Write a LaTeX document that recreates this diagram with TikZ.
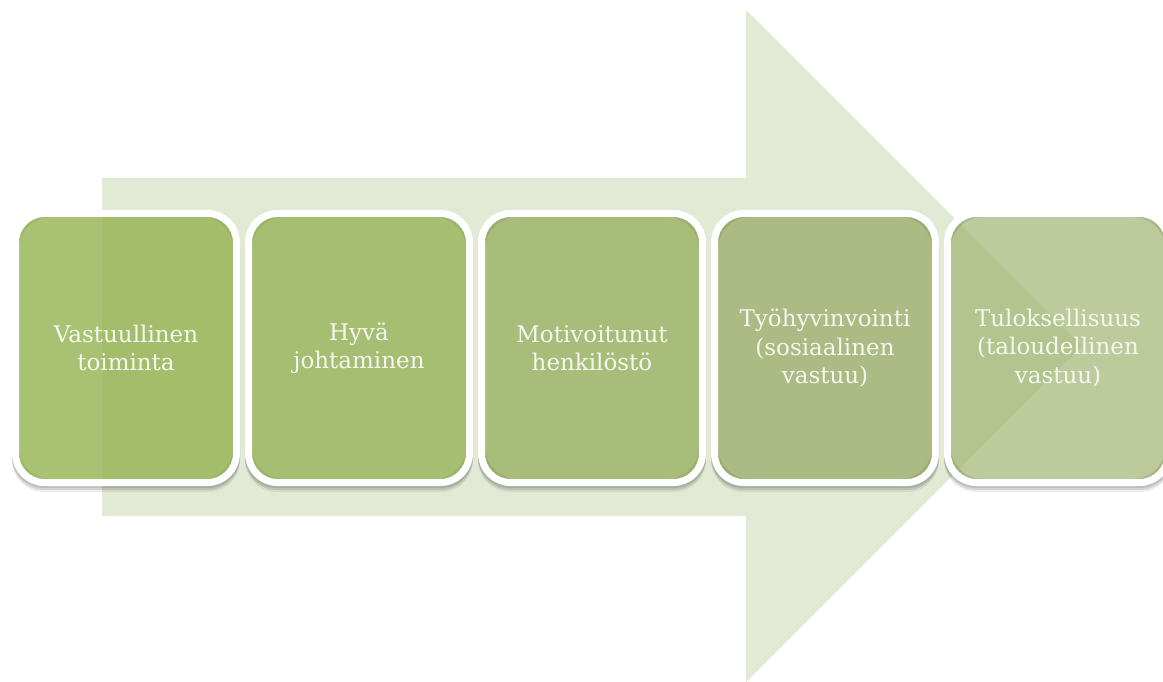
\documentclass[tikz,border=0pt]{standalone}
\usepackage{fontspec}
\setmainfont{DejaVu Serif}
\pgfdeclarelayer{arrowlayer}
\pgfdeclarelayer{shadelayer}
\pgfsetlayers{arrowlayer,shadelayer,main}

\definecolor{arrowfill}{RGB}{226,234,214}
\definecolor{stageA}{RGB}{154,182,89}
\definecolor{stageB}{RGB}{153,181,92}
\definecolor{stageC}{RGB}{151,175,94}
\definecolor{stageD}{RGB}{152,170,99}
\definecolor{stageE}{RGB}{157,178,107}
\definecolor{labeltext}{RGB}{246,246,240}

\tikzset{
  stagebox/.style={rectangle, rounded corners=29pt, draw=white, line width=7pt,
    minimum width=221pt, minimum height=269pt, inner sep=0pt,
    text=labeltext, text opacity=1, draw opacity=1, align=center,
    font=\fontsize{23}{28.5}\selectfont},
  boxshade/.style={fill=black, even odd rule, rounded corners=32pt},
}

\begin{document}
\begin{tikzpicture}[x=1pt, y=-1pt]
  \useasboundingbox (0,0) rectangle (1163,682);

  % the big background arrow
  \begin{pgfonlayer}{arrowlayer}
    \fill[arrowfill] (102,178) -- (746,178) -- (746,10) -- (1082,346)
      -- (746,682) -- (746,516) -- (102,516) -- cycle;
  \end{pgfonlayer}

  % the five stages
  \node[stagebox, fill=stageA, fill opacity=0.85] (b1) at (126,348) {Vastuullinen\\toiminta};
  \node[stagebox, fill=stageB, fill opacity=0.81] (b2) at (359,348) {Hyvä\\johtaminen};
  \node[stagebox, fill=stageC, fill opacity=0.76] (b3) at (592,348) {Motivoitunut\\henkilöstö};
  \node[stagebox, fill=stageD, fill opacity=0.72] (b4) at (825,348) {Työhyvinvointi\\(sosiaalinen\\vastuu)};
  \node[stagebox, fill=stageE, fill opacity=0.67] (b5) at (1058,348) {Tuloksellisuus\\(taloudellinen\\vastuu)};

  % soft shadows under the white frames
  \begin{pgfonlayer}{shadelayer}
    \foreach \b in {b1,b2,b3,b4,b5} {
      \foreach \d/\o in {2/0.10,4/0.10,6/0.07} {
        \fill[boxshade, opacity=\o]
          ([yshift=-\d pt]\b.north west) rectangle ([yshift=-\d pt]\b.south east)
          ([shift={(7pt,-7pt)}]\b.north west) rectangle ([shift={(-7pt,7pt)}]\b.south east);
      }
    }
  \end{pgfonlayer}
\end{tikzpicture}
\end{document}
